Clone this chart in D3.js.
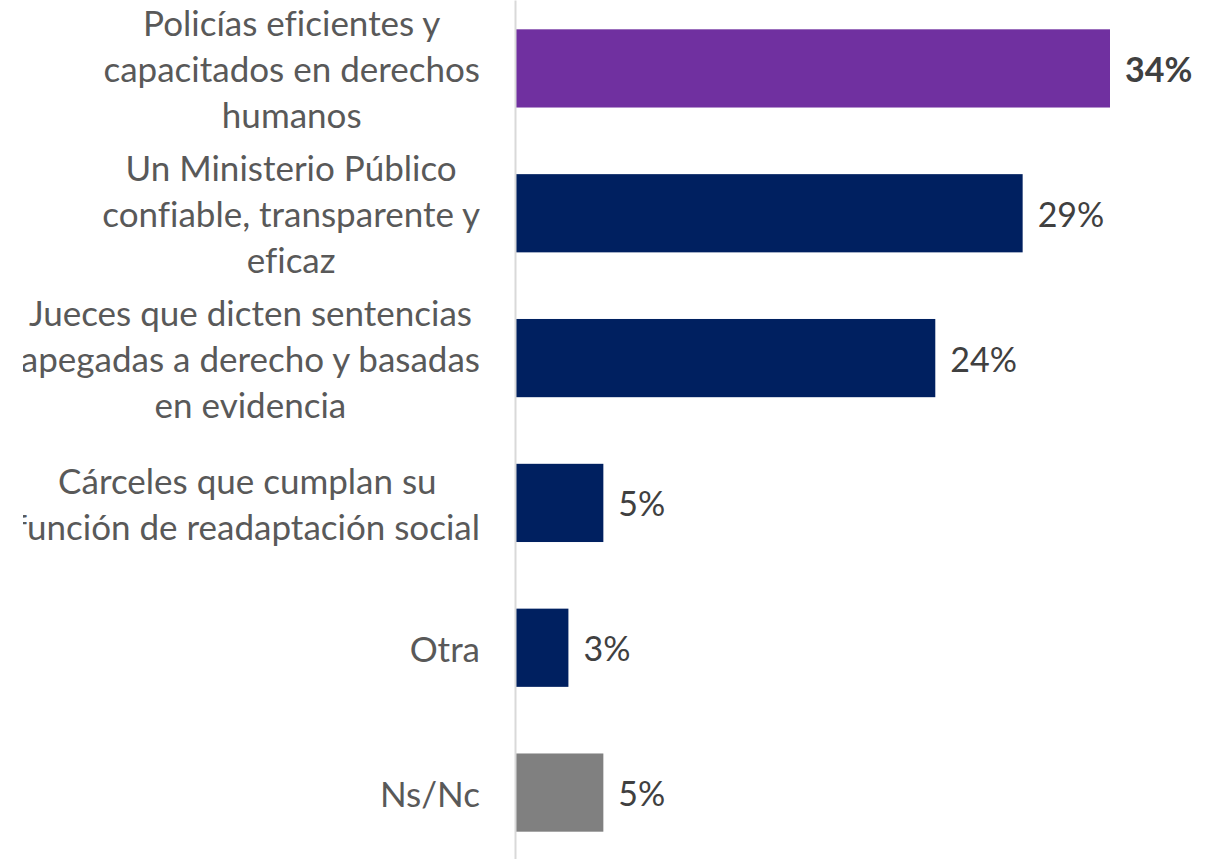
<!DOCTYPE html>
<html>
<head>
<meta charset="utf-8">
<script src="https://cdn.jsdelivr.net/npm/d3@7/dist/d3.min.js"></script>
<style>
  html, body { margin: 0; padding: 0; background: #fff; }
  svg { display: block; }
  text { font-variant-ligatures: none; }
</style>
</head>
<body>
<svg id="chart" width="1214" height="859"></svg>
<script>
const categories = [
  "Policías eficientes y\ncapacitados en derechos\nhumanos",
  "Un Ministerio Público\nconfiable, transparente y\neficaz",
  "Jueces que dicten sentencias\napegadas a derecho y basadas\nen evidencia",
  "Cárceles que cumplan su\nfunción de readaptación social",
  "Otra",
  "Ns/Nc"
];
const values = [34, 29, 24, 5, 3, 5];
const barColors = ["#7030A0", "#002060", "#002060", "#002060", "#002060", "#808080"];
const valueBold = [true, false, false, false, false, false];

const W = 1214, H = 859;
const axisX = 516;
const labelRight = 480;
const fontFamily = "Lato, 'Open Sans', sans-serif";
const labelFontSize = 35;
const valueFontSize = 34;
const lineH = 46;

const svg = d3.select("#chart");

const x = d3.scaleLinear().domain([0, 34]).range([axisX, 1110]);
const y = d3.scaleBand().domain(d3.range(categories.length)).range([-4, 865])
  .paddingInner(0.46).paddingOuter(0.23);

// bars
svg.append("g").selectAll("rect").data(values).join("rect")
  .attr("x", x(0))
  .attr("y", (d, i) => y(i))
  .attr("width", d => x(d) - x(0))
  .attr("height", y.bandwidth())
  .attr("fill", (d, i) => barColors[i]);

// axis line
const axisG = svg.append("g").attr("transform", `translate(${axisX - 1},0)`)
  .call(d3.axisLeft(d3.scaleLinear().domain([0, 1]).range([0, H])).ticks(0).tickSize(0).tickFormat(""));
axisG.select(".domain").attr("stroke", "#d9d9d9").attr("stroke-width", 2);

// clip for category labels
svg.append("defs").append("clipPath").attr("id", "lblclip")
  .append("rect").attr("x", 23).attr("y", 0).attr("width", W).attr("height", H);

// category labels
const lblG = svg.append("g").attr("clip-path", "url(#lblclip)");
categories.forEach((c, i) => {
  const lines = c.split("\n");
  const cy = y(i) + y.bandwidth() / 2;
  const t = lblG.append("text")
    .attr("font-family", fontFamily)
    .attr("font-size", labelFontSize)
    .attr("fill", "#595959")
    .attr("text-anchor", "middle")
    .attr("dominant-baseline", "central");
  const spans = lines.map((ln, k) => t.append("tspan")
    .attr("y", cy + (k - (lines.length - 1) / 2) * lineH)
    .text(ln));
  const maxW = d3.max(spans, s => s.node().getComputedTextLength());
  spans.forEach(s => s.attr("x", labelRight - maxW / 2));
});

// value labels
svg.append("g").selectAll("text").data(values).join("text")
  .attr("x", d => x(d) + 15)
  .attr("y", (d, i) => y(i) + y.bandwidth() / 2)
  .attr("dominant-baseline", "central")
  .attr("font-family", fontFamily)
  .attr("font-size", valueFontSize)
  .attr("font-weight", (d, i) => valueBold[i] ? "bold" : "normal")
  .attr("fill", "#404040")
  .text(d => d + "%");
</script>
</body>
</html>
